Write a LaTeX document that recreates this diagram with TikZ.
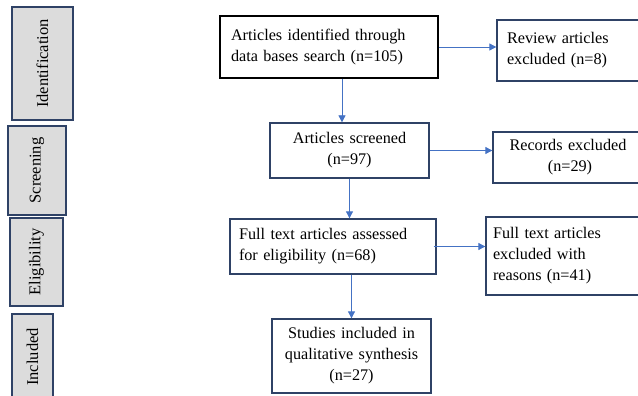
\documentclass[tikz,border=0pt]{standalone}
\usepackage{fontspec}
\setmainfont{Liberation Serif}
\usetikzlibrary{arrows.meta}
\definecolor{arrowblue}{HTML}{4472C4}
\definecolor{boxnavy}{HTML}{2F4266}
\definecolor{phasegray}{HTML}{DCDCDC}
\begin{document}
\begin{tikzpicture}[x=1pt, y=-1pt,
	box/.style = {draw=boxnavy, line width=1.3pt, inner sep=0pt, font=\fontsize{16.2}{21}\selectfont},
	phase/.style = {draw=boxnavy, fill=phasegray, line width=1.3pt, inner sep=0pt, rotate=90, font=\fontsize{16.5}{18}\selectfont},
	arr/.style = {draw=arrowblue, line width=0.8pt, -{Triangle[length=7pt, width=7pt]}}]
	\clip (0,0) rectangle (638,396);
	% phase labels
	\node[phase, minimum width=113pt, minimum height=61pt] (ident) at (42.5,63.5) {Identification};
	\node[phase, minimum width=89pt, minimum height=58pt] (screen) at (37,170.5) {Screening};
	\node[phase, minimum width=88pt, minimum height=53pt] (elig) at (36.5,262) {Eligibility};
	\node[phase, minimum width=86pt, minimum height=41pt] (incl) at (32.5,357) {Included};
	% flow boxes
	\node[box, draw=black, line width=1.8pt, minimum width=218pt, minimum height=62pt, text width=196pt, align=left] (id) at (329,47) {Articles identified through\\data bases search (n=105)};
	\node[box, minimum width=148pt, minimum height=61pt, text width=128pt, align=left] (rev) at (571,50.5) {Review articles\\excluded (n=8)};
	\node[box, minimum width=159pt, minimum height=55pt, text width=150pt, align=center] (scr) at (349.5,150.5) {Articles screened\\(n=97)};
	\node[box, minimum width=150pt, minimum height=51pt, text width=140pt, align=center] (rec) at (568,157.5) {Records excluded\\\hspace*{4pt}(n=29)};
	\node[box, minimum width=206pt, minimum height=55pt, text width=188pt, align=left] (ft) at (333,246.5) {Full text articles assessed\\for eligibility (n=68)};
	\node[box, minimum width=156pt, minimum height=78pt, text width=142pt, align=left] (exc) at (564,256) {Full text articles\\excluded with\\reasons (n=41)};
	\node[box, minimum width=159pt, minimum height=74pt, text width=156pt, align=center] (st) at (351.5,356) {Studies included in\\qualitative synthesis\\(n=27)};
	% connectors
	\draw[arr] (id.east) -- (id.east -| rev.west);
	\draw[arr] ([xshift=13pt]id.south) -- ([xshift=13pt]id.south |- scr.north);
	\draw[arr] (scr.east) -- (scr.east -| rec.west);
	\draw[arr] (scr.south) -- (scr.south |- ft.north);
	\draw[arr] ([xshift=-3pt]ft.east) -- (ft.east -| exc.west);
	\draw[arr] (st.north |- ft.south) -- (st.north);
\end{tikzpicture}
\end{document}
